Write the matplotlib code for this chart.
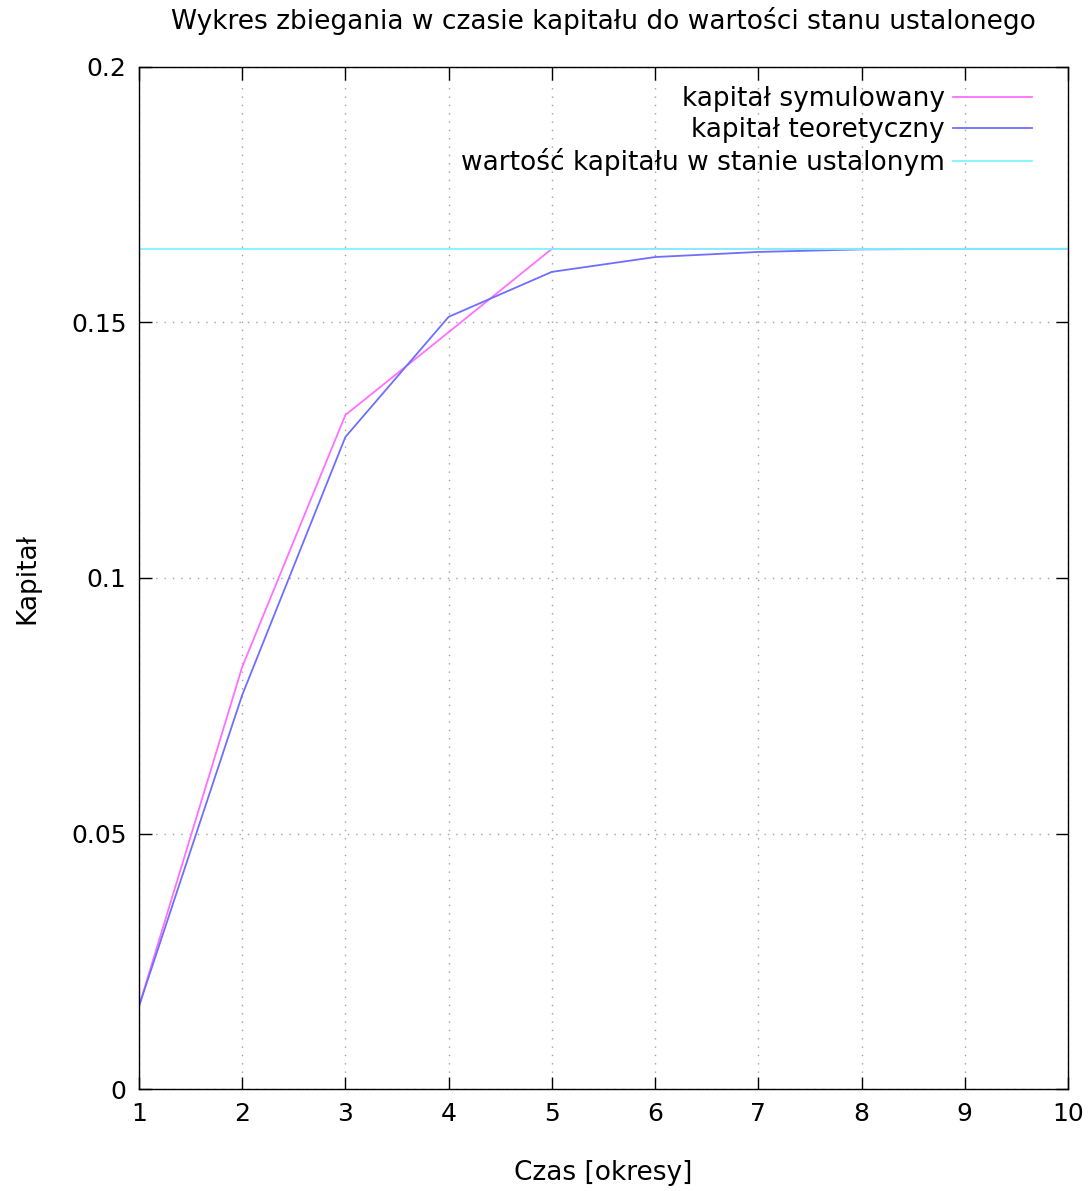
import numpy as np
import matplotlib.pyplot as plt

# okresy czasu
czas = [1, 2, 3, 4, 5, 6, 7, 8, 9, 10]

# kapital z symulacji i z rozwiazania teoretycznego
kapital_sym = [0.0162, 0.0826, 0.1319, 0.1481, 0.1644, 0.1644, 0.1644, 0.1644, 0.1644, 0.1644]
kapital_teor = [0.0162, 0.0771, 0.1276, 0.1511, 0.1599, 0.1628, 0.1638, 0.1643, 0.1644, 0.1644]

# stan ustalony
k_ustalony = 0.1644

fig = plt.figure(figsize=(10.9, 11.91), dpi=100)
ax = fig.add_axes([0.1275, 0.0856, 0.8523, 0.8582])

ax.plot(czas, kapital_sym, color="#ff70ff", lw=1.3, label="kapitał symulowany")
ax.plot(czas, kapital_teor, color="#6e6eff", lw=1.3, label="kapitał teoretyczny")
ax.axhline(k_ustalony, color="#7ff5ff", lw=1.3, label="wartość kapitału w stanie ustalonym")

ax.set_xlim(1, 10)
ax.set_ylim(0, 0.2)
ax.set_xticks(czas)
ax.set_xticklabels([str(c) for c in czas])
ax.set_yticks([0, 0.05, 0.1, 0.15, 0.2])
ax.set_yticklabels(["0", "0.05", "0.1", "0.15", "0.2"])
ax.tick_params(direction="in", top=True, right=True, length=9, width=1, labelsize=18, pad=9)
ax.grid(True, color="#a0a0a0", linestyle=(0, (1, 5)), lw=1)
for s in ax.spines.values():
    s.set_linewidth(1)

ax.set_title("Wykres zbiegania w czasie kapitału do wartości stanu ustalonego", fontsize=19, pad=27)
ax.set_xlabel("Czas [okresy]", fontsize=19, labelpad=25)
ax.set_ylabel("Kapitał", fontsize=19, labelpad=22)

ax.legend(loc="upper right", bbox_to_anchor=(0.9723, 0.9915), frameon=False, markerfirst=False,
          fontsize=19, handlelength=3.0, labelspacing=0.19, borderaxespad=0, handletextpad=0.3)

plt.savefig("out.png", dpi=100)
